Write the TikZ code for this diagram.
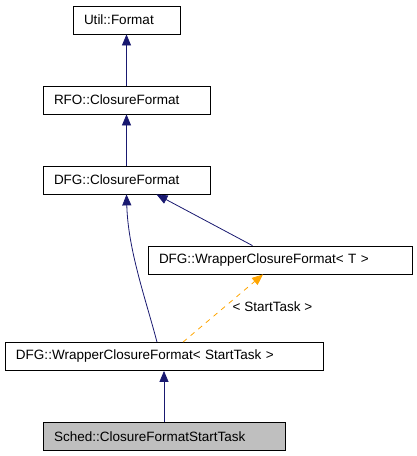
\documentclass[tikz,border=0pt]{standalone}
\usepackage{fontspec}
\setmainfont{Liberation Sans}
\usepackage{xcolor}
\usepackage{tikz}
\usetikzlibrary{shapes,arrows,positioning,calc,arrows.meta}

\definecolor{edgeblue}{RGB}{25,25,112}
\definecolor{tmplorange}{RGB}{255,165,0}
\definecolor{selfgray}{RGB}{191,191,191}

\begin{document}
\begin{tikzpicture}[x=1pt, y=-1pt, node distance=80pt, auto]
    % Styles
    \tikzstyle{class} = [draw, rectangle, minimum height=28pt, inner xsep=11pt, inner ysep=0pt, align=left, line width=0.8pt, font=\fontsize{13.5}{16}\selectfont]
    \tikzstyle{self class} = [class, fill=selfgray]
    \tikzstyle{inherit} = [draw=edgeblue, line width=0.8pt, -{Triangle[length=11pt,width=9pt]}]
    \tikzstyle{template} = [draw=tmplorange, line width=0.8pt, dash pattern=on 5pt off 5pt, -{Triangle[length=11pt,width=9pt]}]

    \useasboundingbox (0,0) rectangle (417,456);

    % Nodes
    \node [class, text width=85pt] (Util) at (126.5,20) {Util::Format};
    \node [class, text width=145pt, below of=Util] (RFO) {RFO::ClosureFormat};
    \node [class, text width=145pt, below of=RFO] (DFG) {DFG::ClosureFormat};
    \node [class, text width=242pt] (WrapT) at (280,260) {DFG::WrapperClosureFormat< T >};
    \node [class, text width=296pt] (WrapS) at (164,356.5) {DFG::WrapperClosureFormat< StartTask >};
    \node [self class, text width=220pt, below of=WrapS] (Sched) {Sched::ClosureFormatStartTask};

    % Label
    \node [font=\fontsize{13.5}{16}\selectfont, inner sep=0pt] (TArg) at (272.5,307) {< StartTask >};

    % Connections
    \draw [inherit] (RFO.north) -- (Util.south);
    \draw [inherit] (DFG.north) -- (RFO.south);
    \draw [inherit] ([xshift=-27.5pt]WrapT.north) -- ([xshift=30pt]DFG.south);
    \draw [inherit] ([xshift=-7pt]WrapS.north) .. controls (146,300) and (128,250) .. (DFG.south);
    \draw [template] ([xshift=19pt]WrapS.north) -- ([xshift=-17pt]WrapT.south);
    \draw [inherit] (Sched.north) -- (WrapS.south);
\end{tikzpicture}
\end{document}
